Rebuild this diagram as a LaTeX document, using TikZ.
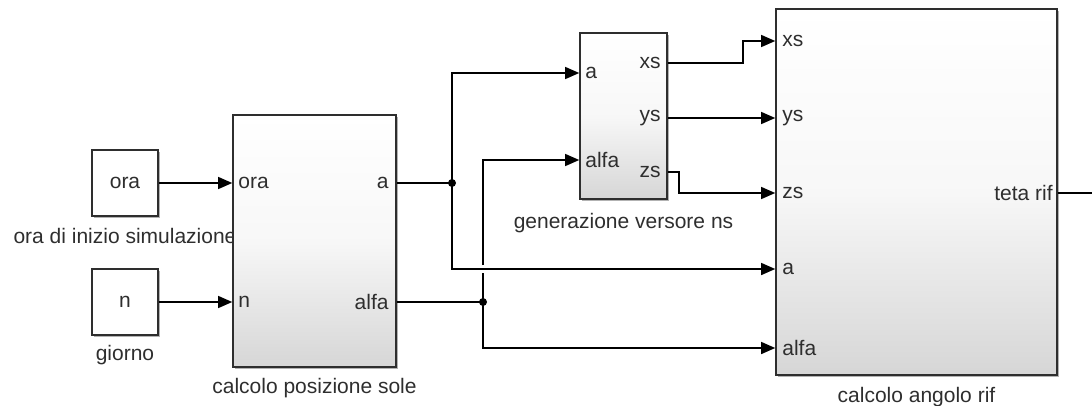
\documentclass[tikz,border=0pt]{standalone}
\usepackage{fontspec}
\setmainfont{Liberation Sans}
\usetikzlibrary{arrows.meta,shadows,calc}
\begin{document}
\begin{tikzpicture}[x=1pt,y=-1pt,
  lbl/.style={inner sep=0pt, text=black!82, font=\fontsize{21}{25}\selectfont},
  shad/.style={drop shadow={shadow xshift=1.6pt, shadow yshift=-1.6pt, fill=black, opacity=0.3}},
  blk/.style={draw=black!82, line width=1.6pt, shad, top color=white, bottom color=black!16, middle color=black!3},
  src/.style={draw=black!82, line width=1.6pt, shad, fill=white},
  wire/.style={line width=1.3pt, black},
  sig/.style={wire, -{Triangle[length=14pt,width=12pt]}},
  dot/.style={circle, fill=black, inner sep=0pt, minimum size=8pt}]
\useasboundingbox (0,0) rectangle (1092,405);

% source blocks
\node[src, minimum width=66pt, minimum height=66pt] (ora) at (125,183) {};
\node[lbl] (oratxt) at (ora.center) {ora};
\node[lbl] (oracap) at ($(ora.south)+(0,19)$) {ora di inizio simulazione};
\node[src, minimum width=66pt, minimum height=66pt] (n) at (125,302) {};
\node[lbl] (ntxt) at (n.center) {n};
\node[lbl] (ncap) at ($(n.south)+(0,19)$) {giorno};

% calcolo posizione sole
\node[blk, minimum width=163pt, minimum height=252pt] (pos) at (314.5,241) {};
\node[lbl] (poscap) at ($(pos.south)+(0,20)$) {calcolo posizione sole};
\coordinate (pos-in1) at (pos.west |- ora.east);
\coordinate (pos-in2) at (pos.west |- n.east);
\coordinate (pos-out1) at (pos.east |- ora.east);
\coordinate (pos-out2) at (pos.east |- n.east);
\node[lbl, anchor=west] (pl1) at ($(pos-in1)+(6,0)$) {ora};
\node[lbl, anchor=west] (pl2) at ($(pos-in2)+(6,0)$) {n};
\node[lbl, anchor=east] (pl3) at ($(pos-out1)+(-8,0)$) {a};
\node[lbl, anchor=east] (pl4) at ($(pos-out2)+(-8,0)$) {alfa};

% generazione versore ns
\node[blk, minimum width=87pt, minimum height=166pt] (gen) at (623.5,116) {};
\node[lbl] (gencap) at ($(gen.south)+(0,23)$) {generazione versore ns};
\coordinate (gen-in1) at (gen.west |- 0,73);
\coordinate (gen-in2) at (gen.west |- 0,160);
\coordinate (gen-out1) at (gen.east |- 0,63);
\coordinate (gen-out2) at (gen.east |- 0,118);
\coordinate (gen-out3) at (gen.east |- 0,172);
\node[lbl, anchor=west] (gl1) at ($(gen-in1)+(6,0)$) {a};
\node[lbl, anchor=west] (gl2) at ($(gen-in2)+(6,0)$) {alfa};
\node[lbl, anchor=east] (gl3) at ($(gen-out1)+(-7,0)$) {xs};
\node[lbl, anchor=east] (gl4) at ($(gen-out2)+(-7,0)$) {ys};
\node[lbl, anchor=east] (gl5) at ($(gen-out3)+(-7,0)$) {zs};

% calcolo angolo rif
\node[blk, minimum width=281pt, minimum height=366pt] (ang) at (916.5,192) {};
\node[lbl] (angcap) at ($(ang.south)+(0,21)$) {calcolo angolo rif};
\coordinate (ang-in1) at (ang.west |- 0,41);
\coordinate (ang-in2) at (ang.west |- 0,118);
\coordinate (ang-in3) at (ang.west |- 0,193);
\coordinate (ang-in4) at (ang.west |- 0,269);
\coordinate (ang-in5) at (ang.west |- 0,348);
\coordinate (ang-out) at (ang.east |- 0,193);
\node[lbl, anchor=west] (al1) at ($(ang-in1)+(7,0)$) {xs};
\node[lbl, anchor=west] (al2) at ($(ang-in2)+(7,0)$) {ys};
\node[lbl, anchor=west] (al3) at ($(ang-in3)+(7,0)$) {zs};
\node[lbl, anchor=west] (al4) at ($(ang-in4)+(7,0)$) {a};
\node[lbl, anchor=west] (al5) at ($(ang-in5)+(7,0)$) {alfa};
\node[lbl, anchor=east] (al6) at ($(ang-out)+(-5,0)$) {teta rif};
\coordinate (tetaend) at (1092,193);

% connectors
\draw[sig] (ora.east) -- (pos-in1);
\draw[sig] (n.east) -- (pos-in2);

\node[dot] (j1) at (452,183) {};
\node[dot] (j2) at (483,302) {};
\draw[wire] (pos-out1) -- (j1.center);
\draw[wire] (pos-out2) -- (j2.center);
\draw[sig] (j1.center) |- (gen-in1);
\draw[sig] (j1.center) |- (ang-in4);
\draw[wire] (j2.center) -- ($(j2.center |- ang-in4)+(0,4)$);
\draw[sig] ($(j2.center |- ang-in4)+(0,-4)$) |- (gen-in2);
\draw[sig] (j2.center) |- (ang-in5);

\draw[sig] (gen-out1) -| (743,41) -- (ang-in1);
\draw[sig] (gen-out2) -- (ang-in2);
\draw[sig] (gen-out3) -| (679,193) -- (ang-in3);
\draw[wire] (ang-out) -- (tetaend);
\end{tikzpicture}
\end{document}
